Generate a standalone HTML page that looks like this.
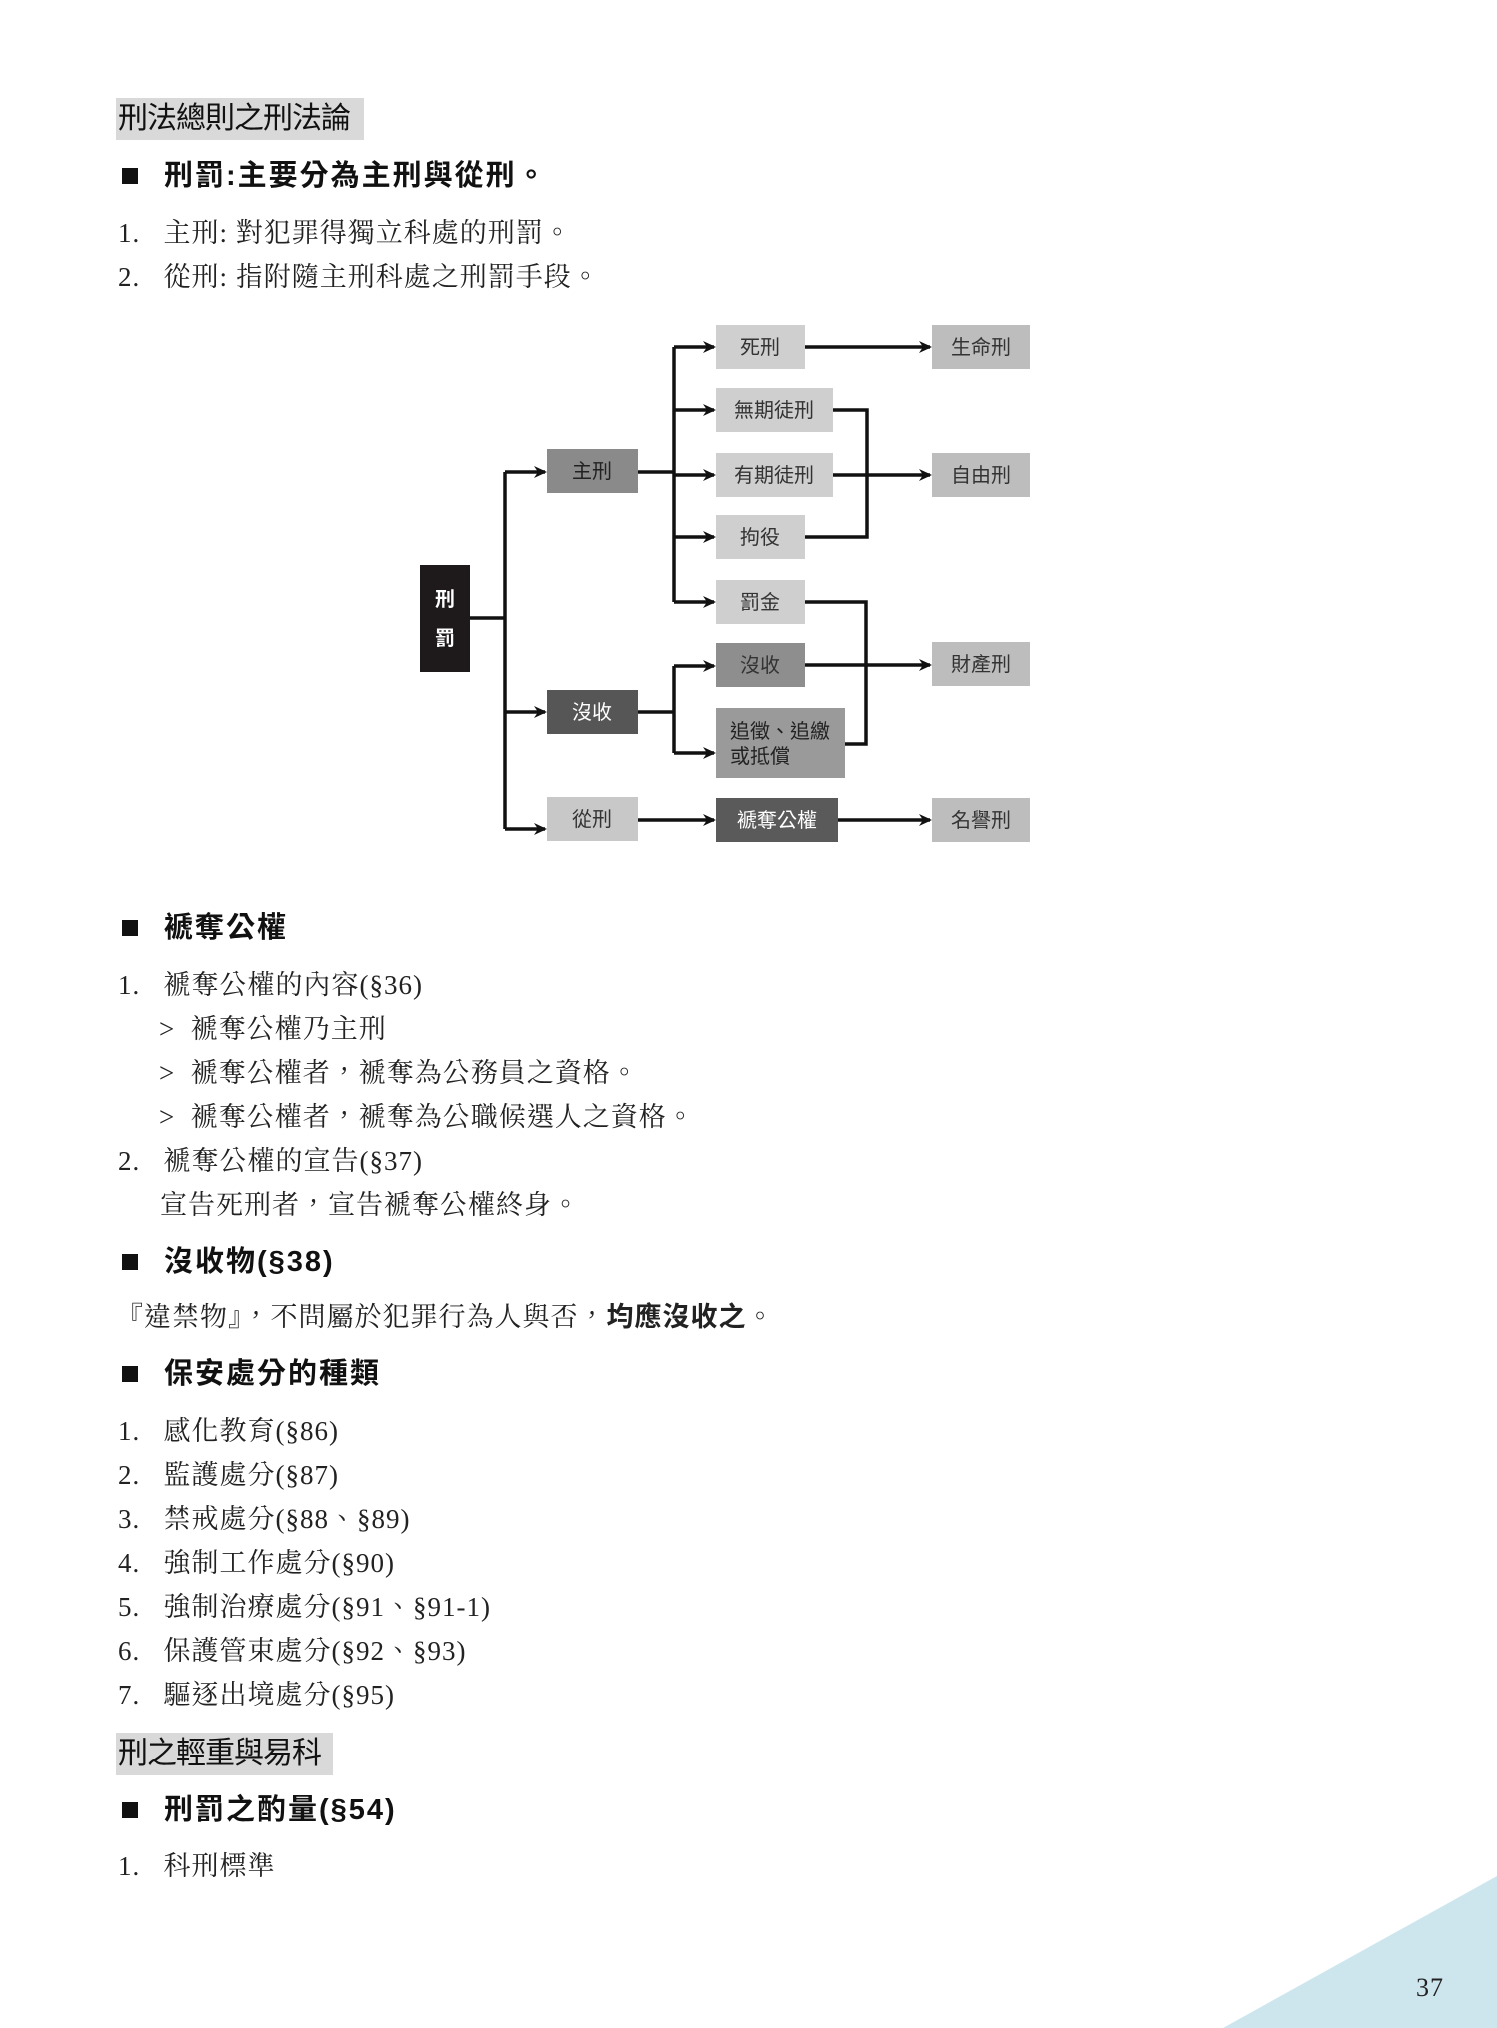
<!DOCTYPE html>
<html><head><meta charset="utf-8"><style>
body{margin:0;width:1497px;height:2028px;background:#fff;position:relative;overflow:hidden}
.t{position:absolute;white-space:nowrap;font-family:"Liberation Serif","Noto Serif CJK TC","Noto Serif CJK SC",serif;font-size:27px;color:#222;line-height:40px;letter-spacing:1px}
.h{position:absolute;white-space:nowrap;font-family:"Liberation Sans","Noto Sans CJK TC",sans-serif;font-size:29px;font-weight:bold;color:#111;line-height:40px;letter-spacing:2px}
.sq{position:absolute;width:16px;height:16px;background:#111}
.hb{position:absolute;white-space:nowrap;overflow:hidden;background:#d9d9d9;font-family:"Liberation Sans","Noto Sans CJK TC",sans-serif;font-size:30px;color:#111;line-height:42px;padding:0 2px;letter-spacing:-1px}
</style></head><body>
<div class="hb" style="left:116px;top:98px;width:244px">刑法總則之刑法論</div>
<div class="sq" style="left:122px;top:168px"></div>
<div class="h" style="left:164px;top:156px">刑罰:主要分為主刑與從刑。</div>
<div class="t" style="left:118px;top:213px">1.&nbsp;&nbsp;&nbsp;主刑:&nbsp;對犯罪得獨立科處的刑罰。</div>
<div class="t" style="left:118px;top:257px">2.&nbsp;&nbsp;&nbsp;從刑:&nbsp;指附隨主刑科處之刑罰手段。</div>

<svg style="position:absolute;left:0;top:0" width="1497" height="900" font-family="Liberation Sans,Noto Sans CJK TC,sans-serif" font-size="20">
<defs><marker id="a" markerWidth="14" markerHeight="14" refX="11" refY="7" orient="auto" markerUnits="userSpaceOnUse"><path d="M0,1 L13,7 L0,13 L4,7z" fill="#111"/></marker></defs>
<g stroke="#111" stroke-width="3.5" fill="none">
<line x1="470" y1="618" x2="505" y2="618"/>
<line x1="505" y1="472" x2="505" y2="829"/>
<line x1="505" y1="472" x2="545" y2="472" marker-end="url(#a)"/>
<line x1="505" y1="712" x2="545" y2="712" marker-end="url(#a)"/>
<line x1="505" y1="829" x2="545" y2="829" marker-end="url(#a)"/>
<line x1="638" y1="472" x2="674" y2="472"/>
<line x1="674" y1="347" x2="674" y2="602"/>
<line x1="674" y1="347" x2="714" y2="347" marker-end="url(#a)"/>
<line x1="674" y1="410" x2="714" y2="410" marker-end="url(#a)"/>
<line x1="674" y1="475" x2="714" y2="475" marker-end="url(#a)"/>
<line x1="674" y1="537" x2="714" y2="537" marker-end="url(#a)"/>
<line x1="674" y1="602" x2="714" y2="602" marker-end="url(#a)"/>
<line x1="638" y1="712" x2="674" y2="712"/>
<line x1="674" y1="666" x2="674" y2="753"/>
<line x1="674" y1="666" x2="714" y2="666" marker-end="url(#a)"/>
<line x1="674" y1="753" x2="714" y2="753" marker-end="url(#a)"/>
<line x1="638" y1="820" x2="714" y2="820" marker-end="url(#a)"/>
<line x1="805" y1="347" x2="930" y2="347" marker-end="url(#a)"/>
<polyline points="833,410 867,410 867,537 805,537"/>
<line x1="833" y1="475" x2="930" y2="475" marker-end="url(#a)"/>
<polyline points="805,602 866,602 866,744 845,744"/>
<line x1="805" y1="665" x2="930" y2="665" marker-end="url(#a)"/>
<line x1="838" y1="820" x2="930" y2="820" marker-end="url(#a)"/>
</g>
<rect x="420" y="565" width="50" height="107" fill="#1e1a1b"/>
<text x="445" y="606" fill="#fff" text-anchor="middle" font-weight="bold">刑</text>
<text x="445" y="645" fill="#fff" text-anchor="middle" font-weight="bold">罰</text>
<g text-anchor="middle">
<rect x="547" y="449" width="91" height="44" fill="#8a8a8a"/><text x="592" y="478" fill="#222">主刑</text>
<rect x="547" y="690" width="91" height="44" fill="#565656"/><text x="592" y="719" fill="#fff">沒收</text>
<rect x="547" y="797" width="91" height="44" fill="#c8c8c8"/><text x="592" y="826" fill="#333">從刑</text>
<rect x="716" y="325" width="89" height="44" fill="#cfcfcf"/><text x="760" y="354" fill="#333">死刑</text>
<rect x="716" y="388" width="117" height="44" fill="#cfcfcf"/><text x="774" y="417" fill="#333">無期徒刑</text>
<rect x="716" y="453" width="117" height="44" fill="#cfcfcf"/><text x="774" y="482" fill="#333">有期徒刑</text>
<rect x="716" y="515" width="89" height="44" fill="#cfcfcf"/><text x="760" y="544" fill="#333">拘役</text>
<rect x="716" y="580" width="89" height="44" fill="#cfcfcf"/><text x="760" y="609" fill="#333">罰金</text>
<rect x="716" y="643" width="89" height="44" fill="#8e8e8e"/><text x="760" y="672" fill="#333">沒收</text>
<rect x="716" y="708" width="129" height="70" fill="#9a9a9a"/><text x="780" y="738" fill="#222">追徵、追繳</text><text x="760" y="763" fill="#222">或抵償</text>
<rect x="716" y="798" width="122" height="44" fill="#5a5a5a"/><text x="777" y="827" fill="#fff">褫奪公權</text>
<rect x="932" y="325" width="98" height="44" fill="#bdbdbd"/><text x="981" y="354" fill="#333">生命刑</text>
<rect x="932" y="453" width="98" height="44" fill="#bdbdbd"/><text x="981" y="482" fill="#333">自由刑</text>
<rect x="932" y="642" width="98" height="44" fill="#bdbdbd"/><text x="981" y="671" fill="#333">財產刑</text>
<rect x="932" y="798" width="98" height="44" fill="#bdbdbd"/><text x="981" y="827" fill="#333">名譽刑</text>
</g>
</svg>

<div class="sq" style="left:122px;top:920px"></div>
<div class="h" style="left:164px;top:908px">褫奪公權</div>
<div class="t" style="left:118px;top:965px">1.&nbsp;&nbsp;&nbsp;褫奪公權的內容(§36)</div>
<div class="t" style="left:159px;top:1009px">&gt;&nbsp;&nbsp;褫奪公權乃主刑</div>
<div class="t" style="left:159px;top:1053px">&gt;&nbsp;&nbsp;褫奪公權者，褫奪為公務員之資格。</div>
<div class="t" style="left:159px;top:1097px">&gt;&nbsp;&nbsp;褫奪公權者，褫奪為公職候選人之資格。</div>
<div class="t" style="left:118px;top:1141px">2.&nbsp;&nbsp;&nbsp;褫奪公權的宣告(§37)</div>
<div class="t" style="left:160px;top:1185px">宣告死刑者，宣告褫奪公權終身。</div>
<div class="sq" style="left:122px;top:1254px"></div>
<div class="h" style="left:164px;top:1242px">沒收物(§38)</div>
<div class="t" style="left:116px;top:1297px">『違禁物』，不問屬於犯罪行為人與否，<b style="font-family:'Liberation Sans','Noto Sans CJK TC',sans-serif">均應沒收之</b>。</div>
<div class="sq" style="left:122px;top:1366px"></div>
<div class="h" style="left:164px;top:1354px">保安處分的種類</div>
<div class="t" style="left:118px;top:1411px">1.&nbsp;&nbsp;&nbsp;感化教育(§86)</div>
<div class="t" style="left:118px;top:1455px">2.&nbsp;&nbsp;&nbsp;監護處分(§87)</div>
<div class="t" style="left:118px;top:1499px">3.&nbsp;&nbsp;&nbsp;禁戒處分(§88、§89)</div>
<div class="t" style="left:118px;top:1543px">4.&nbsp;&nbsp;&nbsp;強制工作處分(§90)</div>
<div class="t" style="left:118px;top:1587px">5.&nbsp;&nbsp;&nbsp;強制治療處分(§91、§91-1)</div>
<div class="t" style="left:118px;top:1631px">6.&nbsp;&nbsp;&nbsp;保護管束處分(§92、§93)</div>
<div class="t" style="left:118px;top:1675px">7.&nbsp;&nbsp;&nbsp;驅逐出境處分(§95)</div>
<div class="hb" style="left:116px;top:1733px;width:213px">刑之輕重與易科</div>
<div class="sq" style="left:122px;top:1802px"></div>
<div class="h" style="left:164px;top:1790px">刑罰之酌量(§54)</div>
<div class="t" style="left:118px;top:1846px">1.&nbsp;&nbsp;&nbsp;科刑標準</div>
<svg style="position:absolute;left:0;top:0" width="1497" height="2028"><polygon points="1497,1876 1497,2028 1223,2028" fill="#cde6ee"/></svg>
<div class="t" style="left:1416px;top:1968px;font-size:26px">37</div>
</body></html>
